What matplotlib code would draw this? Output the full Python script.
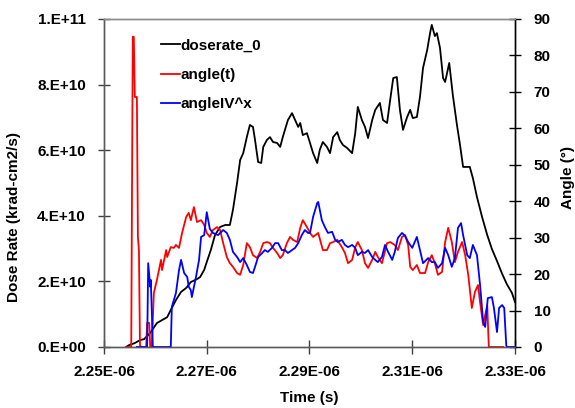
import matplotlib
matplotlib.use("Agg")
import matplotlib.pyplot as plt
from matplotlib.ticker import FuncFormatter, MultipleLocator
import numpy as np

# ---- data (time in ns, dose in 1e10 krad-cm2/s, angles in degrees) ----
dose_t_ns = [2254.3, 2254.9, 2256.0, 2257.0, 2257.8, 2259.0, 2260.3, 2261.3, 2262.3, 2263.0,
             2264.0, 2265.0, 2266.0, 2266.9, 2268.1, 2268.7, 2269.5, 2270.0, 2270.8, 2271.6,
             2272.6, 2273.6, 2274.5, 2275.1, 2275.9, 2276.5, 2277.1, 2277.8, 2278.4, 2279.0,
             2279.4, 2280.0, 2280.6, 2281.0, 2281.7, 2282.3, 2282.9, 2283.7, 2284.3, 2284.8,
             2285.8, 2286.6, 2287.2, 2287.8, 2288.2, 2288.7, 2289.5, 2290.1, 2290.7, 2291.5,
             2292.0, 2292.6, 2293.4, 2294.0, 2294.6, 2295.4, 2295.9, 2296.5, 2297.3, 2298.3,
             2298.9, 2299.4, 2300.2, 2300.8, 2301.4, 2302.2, 2302.8, 2303.7, 2304.3, 2305.1,
             2305.7, 2306.3, 2307.0, 2307.6, 2308.2, 2309.0, 2309.6, 2310.1, 2310.9, 2311.5,
             2312.1, 2312.9, 2313.5, 2313.8, 2314.4, 2314.8, 2315.4, 2316.0, 2316.4, 2317.2,
             2317.9, 2318.7, 2319.3, 2319.9, 2320.7, 2321.2, 2321.8, 2322.6, 2323.6, 2324.6,
             2325.5, 2326.5, 2327.5, 2328.4, 2329.4, 2330.0]
dose_e10 = [0.00, 0.06, 0.12, 0.21, 0.24, 0.43, 0.73, 0.82, 0.91, 1.13,
            1.43, 1.68, 1.80, 1.98, 2.07, 2.13, 2.35, 2.59, 2.96, 3.41,
            3.66, 3.72, 3.72, 4.18, 5.00, 5.70, 5.91, 6.40, 6.77, 6.71,
            6.31, 5.64, 5.61, 6.10, 6.31, 6.40, 6.25, 6.22, 6.10, 6.40,
            6.92, 7.13, 6.92, 6.71, 6.83, 6.46, 6.52, 6.22, 5.91, 5.61,
            6.01, 6.25, 6.10, 5.91, 6.40, 6.55, 6.31, 6.16, 6.07, 5.91,
            6.52, 7.32, 6.92, 6.71, 6.37, 6.92, 7.23, 7.44, 6.92, 6.83,
            7.53, 8.20, 8.23, 7.23, 6.62, 7.01, 7.23, 6.98, 7.01, 7.62,
            8.51, 9.05, 9.60, 9.82, 9.48, 9.57, 9.12, 8.20, 8.08, 8.66,
            7.68, 6.77, 6.16, 5.49, 5.49, 5.49, 5.15, 4.57, 3.96, 3.41,
            2.99, 2.62, 2.23, 1.92, 1.65, 1.37]

angle_t_ns = [2254.5, 2255.3, 2255.6, 2255.8, 2256.0, 2256.4, 2256.6, 2256.8, 2257.0, 2257.2,
              2258.2, 2258.4, 2258.8, 2259.0, 2259.3, 2259.7, 2260.3, 2261.1, 2261.3, 2262.1,
              2262.3, 2263.0, 2263.6, 2264.0, 2264.6, 2265.2, 2266.0, 2266.5, 2266.9, 2267.5,
              2268.1, 2268.9, 2269.5, 2270.0, 2270.6, 2271.2, 2272.0, 2272.6, 2273.2, 2273.9,
              2274.5, 2275.1, 2275.9, 2276.5, 2277.1, 2277.8, 2278.4, 2279.0, 2279.8, 2280.4,
              2281.0, 2281.7, 2282.3, 2282.9, 2283.7, 2284.3, 2284.8, 2285.6, 2286.2, 2286.8,
              2287.6, 2288.2, 2288.7, 2289.5, 2290.1, 2290.7, 2291.7, 2292.6, 2293.4, 2294.0,
              2294.6, 2295.4, 2296.3, 2296.9, 2297.5, 2298.3, 2298.9, 2299.4, 2300.2, 2300.8,
              2301.4, 2302.2, 2302.8, 2303.3, 2304.1, 2305.1, 2305.7, 2306.6, 2307.2, 2308.0,
              2308.6, 2309.2, 2309.6, 2310.1, 2310.9, 2311.5, 2312.5, 2313.1, 2313.8, 2314.4,
              2315.0, 2315.8, 2316.4, 2317.0, 2317.7, 2318.3, 2318.9, 2319.7, 2320.3, 2320.9,
              2321.6, 2322.2, 2322.8, 2323.2, 2323.8, 2324.2, 2324.6, 2324.9, 2327.7]
angle_t = [0, 0, 85.1, 85.1, 68.6, 68.6, 30.2, 26.6, 0.5, 0,
           0, 6.6, 6.6, 0, 0, 14.8, 18.4, 23.9, 21.1, 26.6,
           24.7, 27.4, 27.2, 28.0, 27.2, 31.3, 35.7, 36.8, 34.8, 38.4,
           34.3, 34.8, 33.5, 31.3, 30.2, 32.1, 32.9, 32.1, 28.5, 24.7,
           23.0, 22.0, 20.3, 19.8, 22.5, 28.5, 27.4, 25.2, 24.4, 26.1,
           28.5, 28.8, 28.5, 27.2, 25.8, 24.4, 25.2, 28.5, 30.2, 29.4,
           28.8, 32.7, 34.8, 32.9, 31.3, 30.2, 31.3, 26.6, 26.6, 28.5,
           28.8, 29.4, 27.4, 25.8, 23.0, 23.9, 27.4, 28.8, 26.6, 23.0,
           21.7, 23.9, 26.1, 24.7, 23.0, 28.5, 28.8, 28.0, 26.6, 30.2,
           30.7, 28.0, 22.0, 21.1, 22.5, 20.3, 20.3, 23.3, 25.2, 23.0,
           19.8, 20.6, 28.8, 32.7, 28.8, 23.3, 26.1, 28.8, 25.2, 19.8,
           10.7, 15.1, 17.0, 12.3, 6.0, 8.8, 11.5, 0, 0]

iv_t_ns = [2256.4, 2258.4, 2258.6, 2259.0, 2259.1, 2259.3, 2259.5, 2263.0, 2263.2, 2264.0,
           2264.6, 2265.0, 2265.6, 2266.2, 2266.5, 2266.9, 2267.1, 2267.9, 2268.5, 2268.9,
           2269.5, 2270.0, 2270.6, 2271.2, 2272.2, 2273.2, 2273.9, 2274.5, 2275.1, 2275.9,
           2276.5, 2277.1, 2277.8, 2278.4, 2279.0, 2279.4, 2280.0, 2280.8, 2281.3, 2281.9,
           2282.7, 2283.3, 2283.9, 2284.6, 2285.2, 2285.8, 2286.6, 2287.2, 2287.8, 2288.5,
           2289.1, 2289.7, 2290.1, 2290.7, 2291.5, 2291.7, 2292.4, 2293.0, 2293.6, 2294.4,
           2295.0, 2295.5, 2296.3, 2296.9, 2297.5, 2298.3, 2298.9, 2299.4, 2300.2, 2300.8,
           2301.4, 2302.2, 2302.8, 2303.3, 2304.1, 2304.7, 2305.3, 2306.1, 2306.6, 2307.2,
           2308.0, 2308.6, 2309.2, 2310.0, 2310.9, 2311.5, 2312.1, 2313.1, 2313.8, 2314.4,
           2315.0, 2315.8, 2316.4, 2317.0, 2317.7, 2318.3, 2318.9, 2319.5, 2319.9, 2320.7,
           2321.2, 2321.8, 2322.6, 2323.2, 2323.8, 2324.2, 2324.7, 2325.5, 2325.9, 2326.5,
           2326.9, 2327.5, 2327.9, 2328.3, 2328.4, 2330.0]
angle_iv = [0, 0, 23.0, 16.5, 18.4, 10.2, 0, 0, 11.0, 14.8,
            21.1, 23.9, 20.3, 19.2, 16.5, 15.6, 13.7, 19.2, 23.9, 30.2,
            30.7, 37.0, 32.4, 31.3, 30.7, 32.1, 31.3, 29.4, 26.1, 24.7,
            23.3, 24.4, 22.5, 20.6, 20.3, 22.0, 24.7, 25.8, 26.6, 26.1,
            27.2, 28.5, 28.5, 26.6, 26.6, 25.8, 26.6, 27.2, 28.5, 30.7,
            32.1, 31.3, 31.3, 35.7, 39.5, 39.8, 34.8, 32.9, 31.3, 31.6,
            29.4, 28.8, 29.4, 28.0, 27.4, 28.0, 27.2, 25.2, 26.1, 25.8,
            26.6, 24.7, 23.9, 23.3, 24.7, 28.0, 26.1, 23.9, 26.1, 29.9,
            31.3, 30.5, 28.8, 27.2, 30.2, 26.6, 23.0, 24.4, 23.3, 23.3,
            21.7, 23.0, 27.2, 25.2, 22.0, 24.4, 32.7, 34.0, 30.7, 25.2,
            24.4, 28.0, 25.2, 17.0, 6.9, 5.5, 13.4, 13.7, 10.7, 4.1,
            10.7, 11.5, 10.7, 0.5, 0, 0]

x_ticks = [2.25e-6, 2.27e-6, 2.29e-6, 2.31e-6, 2.33e-6]
labels = ["doserate_0", "angle(t)", "angleIV^x"]

FONT = ["Liberation Sans", "DejaVu Sans"]
plt.rcParams["font.family"] = FONT
plt.rcParams["font.weight"] = "bold"
FS = 11

fig = plt.figure(figsize=(5.75, 4.08), dpi=100)
ax1 = fig.add_axes([104/575, 1-347/408, 411/575, 328/408])
ax2 = ax1.twinx()

t_dose = np.array(dose_t_ns) * 1e-9
t_ang = np.array(angle_t_ns) * 1e-9
t_iv = np.array(iv_t_ns) * 1e-9

l1, = ax1.plot(t_dose, np.array(dose_e10) * 1e10, color="black", lw=1.3)
l2, = ax2.plot(t_ang, angle_t, color="#ff0000", lw=1.3)
l3, = ax2.plot(t_iv, angle_iv, color="#0000ff", lw=1.3)

ax1.set_xlim(2.25e-6, 2.33e-6)
ax1.set_ylim(0, 1e11)
ax2.set_ylim(0, 90)
ax1.set_xticks(x_ticks)
ax1.yaxis.set_major_locator(MultipleLocator(2e10))
ax2.yaxis.set_major_locator(MultipleLocator(10))

def sci_left(v, pos):
    if v == 0:
        return "0.E+00"
    e = int(np.floor(np.log10(abs(v)) + 1e-9))
    m = v / 10**e
    return f"{m:.0f}.E+{e:02d}"

def sci_x(v, pos):
    return f"{v:.2E}"

ax1.yaxis.set_major_formatter(FuncFormatter(sci_left))
ax1.xaxis.set_major_formatter(FuncFormatter(sci_x))

for ax in (ax1, ax2):
    ax.tick_params(labelsize=FS, width=1, color="#404040")
ax1.tick_params(axis="y", direction="inout", length=8, pad=9)
ax1.tick_params(axis="x", direction="inout", length=10, pad=8)
ax2.tick_params(axis="y", direction="inout", length=9, pad=9, color="black")
for lab in ax1.get_xticklabels() + ax1.get_yticklabels() + ax2.get_yticklabels():
    lab.set_fontweight("bold")

for ax in (ax1, ax2):
    ax.spines["top"].set_color("#8c8c8c")
    ax.spines["left"].set_color("#5a5a5a")
    ax.spines["bottom"].set_color("#5a5a5a")
    ax.spines["right"].set_color("black")
    for s in ax.spines.values():
        s.set_linewidth(1.0)

ax1.set_xlabel("Time (s)", fontsize=FS, fontweight="bold")
ax1.set_ylabel("Dose Rate (krad-cm2/s)", fontsize=FS, fontweight="bold")
ax2.set_ylabel("Angle (°)", fontsize=FS, fontweight="bold", rotation=90)
ax1.xaxis.set_label_coords(0.5, -0.135)
ax1.yaxis.set_label_coords(-0.202, 0.396)
ax2.yaxis.set_label_coords(1.112, 0.518)

leg = ax2.legend([l1, l2, l3], labels, loc="upper left",
                 bbox_to_anchor=(0.138, 0.94), frameon=False,
                 prop={"family": FONT, "weight": "bold", "size": FS},
                 handlelength=1.25, handletextpad=0.05, labelspacing=1.0,
                 borderaxespad=0, borderpad=0)

fig.savefig("out.png", dpi=100)
